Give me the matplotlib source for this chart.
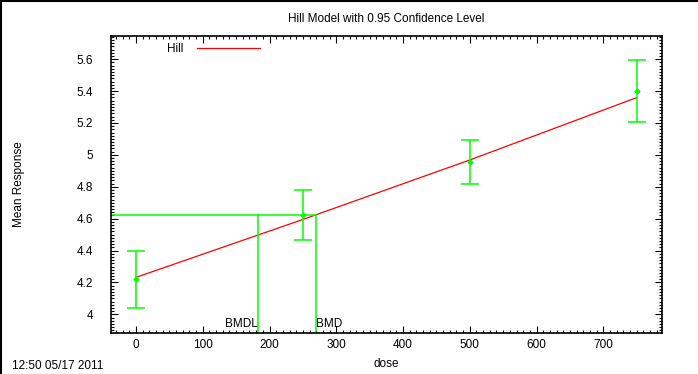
import matplotlib.pyplot as plt
from matplotlib.lines import Line2D
from matplotlib.ticker import MultipleLocator

plt.rcParams['font.family'] = ['Liberation Sans', 'DejaVu Sans']

# observed group means with confidence limits
dose = [0, 250, 500, 750]
mean_resp = [4.222, 4.620, 4.955, 5.403]
ci_low = [4.040, 4.464, 4.817, 5.208]
ci_high = [4.400, 4.778, 5.092, 5.597]

# fitted Hill curve
fit_dose = [0, 250, 500, 750]
fit_resp = [4.232, 4.595, 4.968, 5.359]

bmr_level = 4.625
bmd = 270
bmdl = 183

green = '#00ff00'
red = '#ff0000'

fig = plt.figure(figsize=(6.98, 3.74), dpi=100)
ax = fig.add_axes([0.159, 0.1096, 0.789, 0.794])

ax.plot(fit_dose, fit_resp, color=red, lw=0.9, label='Hill')

yerr = [[m - lo for m, lo in zip(mean_resp, ci_low)],
        [hi - m for m, hi in zip(mean_resp, ci_high)]]
ax.errorbar(dose, mean_resp, yerr=yerr, fmt='D', ms=2.5, color=green,
            ecolor=green, elinewidth=1.1, capsize=6.5, capthick=1.1)

ax.set_xlim(-37.5, 787.5)
ax.set_ylim(3.883, 5.745)

# benchmark dose lines
ax.plot([-37.5, bmd], [bmr_level, bmr_level], color=green, lw=1.1)
ax.plot([bmd, bmd], [3.883, bmr_level], color=green, lw=1.1)
ax.plot([bmdl, bmdl], [3.883, bmr_level], color=green, lw=1.1)
ax.text(bmdl, 3.905, 'BMDL', ha='right', va='bottom', fontsize=8.5)
ax.text(bmd, 3.905, 'BMD', ha='left', va='bottom', fontsize=8.5)

ax.xaxis.set_major_locator(MultipleLocator(100))
ax.xaxis.set_minor_locator(MultipleLocator(10))
ax.yaxis.set_major_locator(MultipleLocator(0.2))
ax.yaxis.set_minor_locator(MultipleLocator(0.02))
ax.yaxis.set_major_formatter(plt.FuncFormatter(lambda v, p: f'{v:g}'))
ax.tick_params(which='both', direction='in', top=True, right=True,
               labelsize=8.5, width=0.8)
ax.tick_params(which='major', length=5)
ax.tick_params(which='minor', length=2.5)
ax.tick_params(axis='x', which='major', pad=4)
ax.tick_params(axis='y', which='major', pad=13)
for s in ax.spines.values():
    s.set_linewidth(1.2)

ax.set_xlabel('dose', fontsize=8.5, labelpad=5)
ax.set_ylabel('Mean Response', fontsize=8.5, labelpad=37)
ax.set_title('Hill Model with 0.95 Confidence Level', fontsize=8.5, pad=10)

ax.legend(handles=[Line2D([], [], color=red, lw=0.9)], labels=['Hill'],
          loc='upper left', bbox_to_anchor=(0.082, 1.012), frameon=False,
          fontsize=8.5, handlelength=5.3, handletextpad=1.2,
          markerfirst=False)

fig.text(0.017, 0.006, '12:50 05/17 2011', fontsize=8.5, ha='left', va='bottom')

# outer frame, top and left edges
fig.add_artist(Line2D([0, 1], [0.998, 0.998], color='black', lw=1.5,
                      transform=fig.transFigure))
fig.add_artist(Line2D([0.002, 0.002], [0, 1], color='black', lw=1.5,
                      transform=fig.transFigure))

fig.savefig('out.png', dpi=100)
